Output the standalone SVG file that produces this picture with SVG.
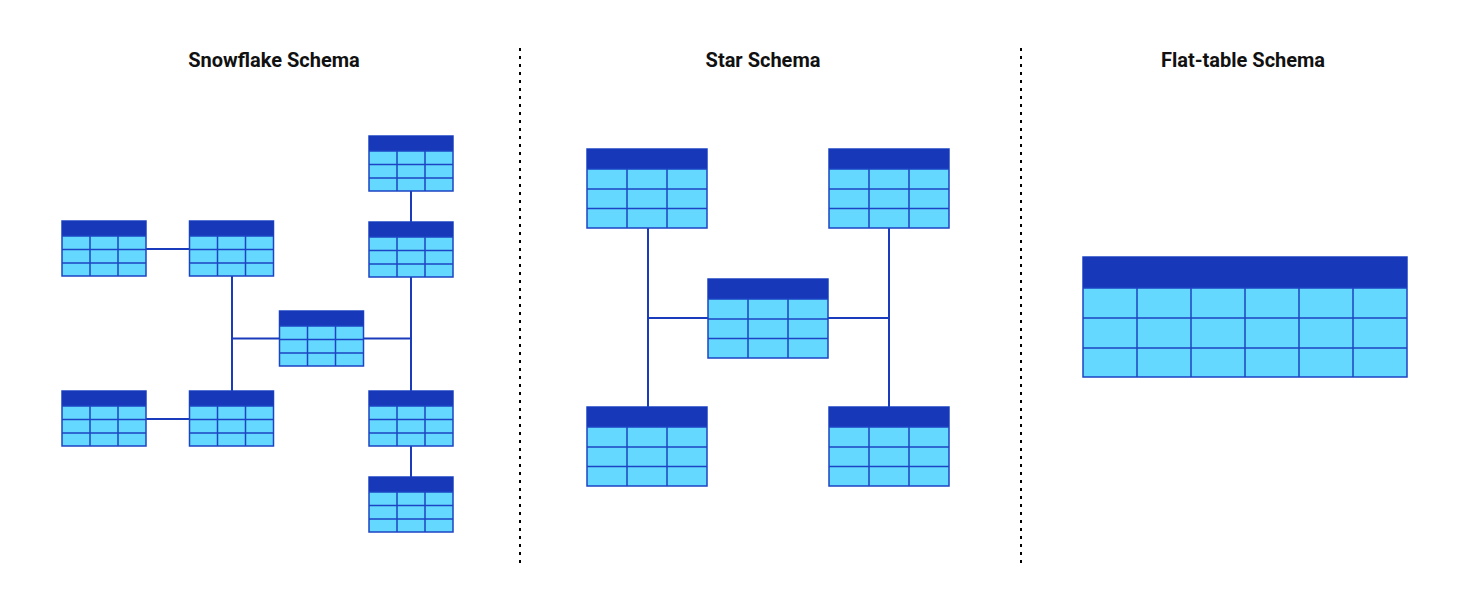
<svg xmlns="http://www.w3.org/2000/svg" width="1478" height="609" viewBox="0 0 1478 609">
<style>
.title{font-family:Roboto,"Liberation Sans",sans-serif;font-size:20px;font-weight:bold;fill:#111;text-anchor:middle}
.body{fill:#64d8fe;stroke:#1d44c4;stroke-width:1.5}
.head{fill:#1739b9}
.grid{stroke:#1d44c4;stroke-width:1.5;fill:none}
.conn{stroke:#1a3cbc;stroke-width:2;fill:none}
.div{stroke:#000;stroke-width:2;stroke-dasharray:3 5;fill:none}
</style>
<defs>
<g id="small">
<rect class="body" x="0" y="0" width="84" height="55"/>
<rect class="head" x="0" y="0" width="84" height="15"/>
<path class="grid" d="M0 15H84M0 28.5H84M0 42H84M28 15V55M56 15V55"/>
</g>
<g id="mid">
<rect class="body" x="0" y="0" width="120" height="79"/>
<rect class="head" x="0" y="0" width="120" height="20"/>
<path class="grid" d="M0 20H120M0 40H120M0 59.5H120M40 20V79M80 20V79"/>
</g>
</defs>
<g id="dividers">
<line class="div" x1="520" y1="48" x2="520" y2="568"/>
<line class="div" x1="1021" y1="48" x2="1021" y2="568"/>
</g>
<g id="titles">
<text class="title" x="274" y="67">Snowflake Schema</text>
<text class="title" x="763" y="67">Star Schema</text>
<text class="title" x="1243" y="67">Flat-table Schema</text>
</g>
<g id="connectors">
<path class="conn" d="M146 249H189"/>
<path class="conn" d="M146 419H189"/>
<path class="conn" d="M232 276V391"/>
<path class="conn" d="M232 338.5H279M364 338.5H411"/>
<path class="conn" d="M411 191V222M411 277V391M411 446V477"/>
<path class="conn" d="M648 228V407M648 318H708"/>
<path class="conn" d="M889 228V407M828 318H889"/>
</g>
<g id="sf-t1"><use href="#small" x="62" y="221"/></g>
<g id="sf-t2"><use href="#small" x="189.5" y="221"/></g>
<g id="sf-t3"><use href="#small" x="369" y="136"/></g>
<g id="sf-t4"><use href="#small" x="369" y="222"/></g>
<g id="sf-center"><use href="#small" x="279.5" y="311"/></g>
<g id="sf-t5"><use href="#small" x="62" y="391"/></g>
<g id="sf-t6"><use href="#small" x="189.5" y="391"/></g>
<g id="sf-t7"><use href="#small" x="369" y="391"/></g>
<g id="sf-t8"><use href="#small" x="369" y="477"/></g>
<g id="star-tl"><use href="#mid" x="587" y="149"/></g>
<g id="star-tr"><use href="#mid" x="829" y="149"/></g>
<g id="star-center"><use href="#mid" x="708" y="279"/></g>
<g id="star-bl"><use href="#mid" x="587" y="407"/></g>
<g id="star-br"><use href="#mid" x="829" y="407"/></g>
<g id="flat-table">
<rect class="body" x="1083" y="257" width="324" height="120"/>
<rect class="head" x="1083" y="257" width="324" height="31"/>
<path class="grid" d="M1083 288H1407M1083 318H1407M1083 348H1407M1137 288V377M1191 288V377M1245 288V377M1299 288V377M1353 288V377"/>
</g>
</svg>
